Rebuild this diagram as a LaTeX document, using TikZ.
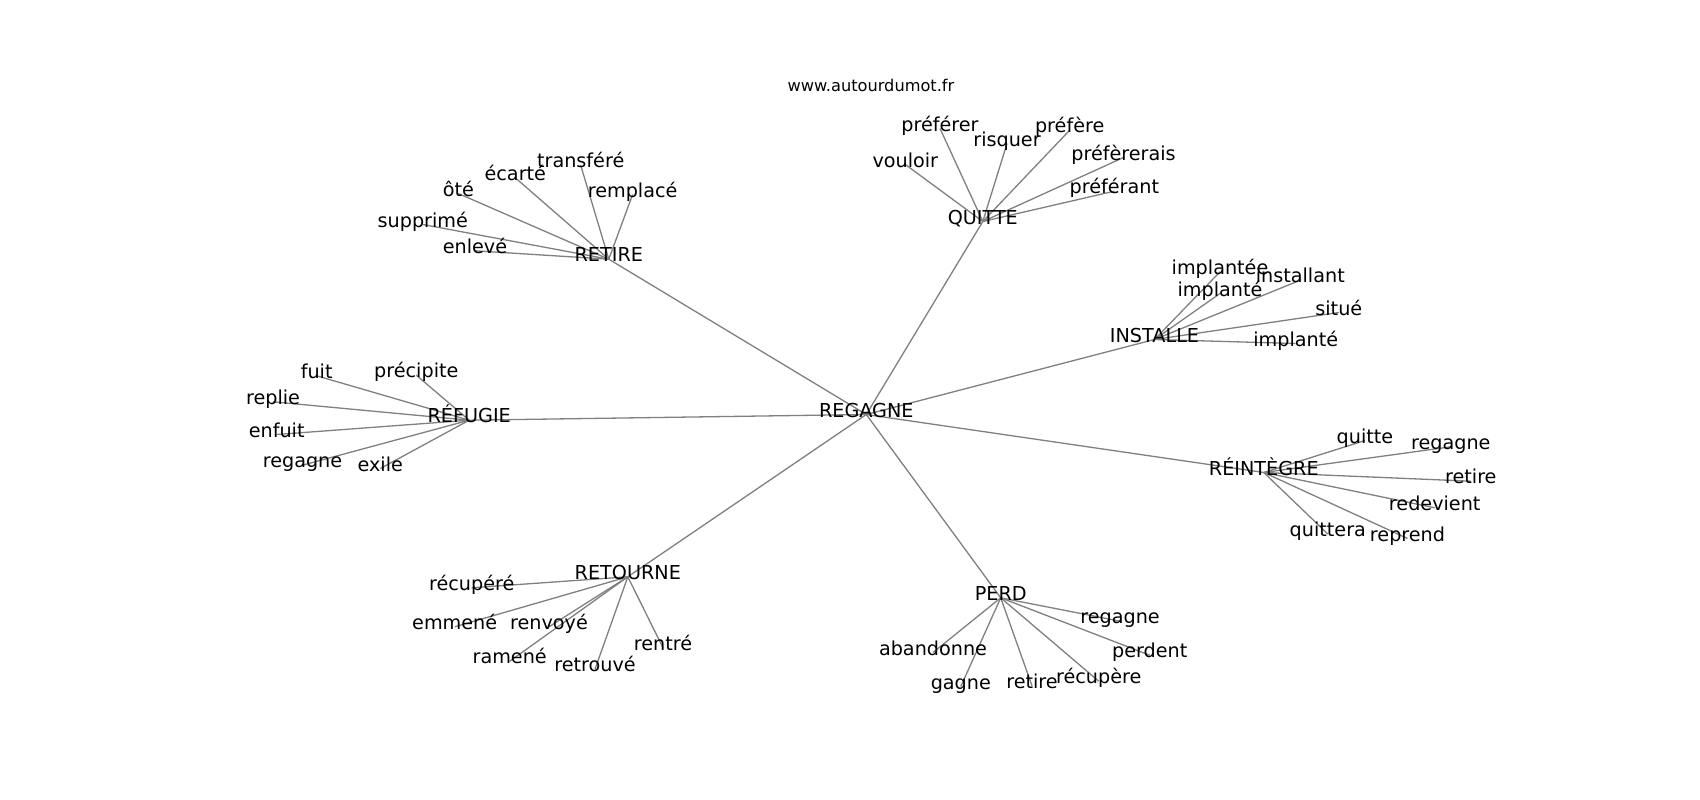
\documentclass[tikz,border=0pt]{standalone}
\usepackage{fontspec}
\setmainfont{DejaVu Sans}
\pgfdeclarelayer{bg}
\pgfdeclarelayer{edges}
\pgfsetlayers{bg,edges,main}
\tikzset{
  w/.style={inner sep=0pt, text height=0.76em, text depth=0.24em, font=\fontsize{19.2}{23}\selectfont, text=black},
  e/.style={draw=black!50, line width=1.3pt},
  ttl/.style={inner sep=0pt, anchor=base, font=\fontsize{16.2}{20}\selectfont}
}
\begin{document}
\begin{tikzpicture}[x=1pt,y=-1pt]
\begin{pgfonlayer}{bg}
\fill[white] (0,0) rectangle (1700,800);
\end{pgfonlayer}
\useasboundingbox (0,0) rectangle (1700,800);
\begin{scope}[shift={(0,3.5)}]
\node[ttl] (title) at (871,88) {www.autourdumot.fr};
% hubs
\node[w] (regagne) at (866.3,411) {REGAGNE};
\node[w] (retire) at (608.8,255.7) {RETIRE};
\node[w] (quitte) at (982.8,218) {QUITTE};
\node[w] (installe) at (1154.5,336) {INSTALLE};
\node[w] (reintegre) at (1263.8,469) {RÉINTÈGRE};
\node[w] (perd) at (1000.7,594.3) {PERD};
\node[w] (retourne) at (627.8,573.3) {RETOURNE};
\node[w] (refugie) at (469.2,416.7) {RÉFUGIE};
% RETIRE leaves
\node[w] (transfere) at (580.7,161.7) {transféré};
\node[w] (ecarte) at (515.3,174.3) {écarté};
\node[w] (ote) at (458.3,190) {ôté};
\node[w] (remplace) at (632.6,191) {remplacé};
\node[w] (supprime) at (422.8,221) {supprimé};
\node[w] (enleve) at (475,247.3) {enlevé};
% QUITTE leaves
\node[w] (preferer) at (940,125) {préférer};
\node[w] (risquer) at (1007,140) {risquer};
\node[w] (prefere) at (1069.7,126.7) {préfère};
\node[w] (vouloir) at (905.3,161) {vouloir};
\node[w] (prefererais) at (1123.5,154) {préfèrerais};
\node[w] (preferant) at (1114.3,187.7) {préférant};
% INSTALLE leaves
\node[w] (implantee) at (1220,268.3) {implantée};
\node[w] (installant) at (1300.3,276.7) {installant};
\node[w] (implanteA) at (1220,290) {implanté};
\node[w] (situe) at (1338.8,309) {situé};
\node[w] (implanteB) at (1295.7,340) {implanté};
% REINTEGRE leaves
\node[w] (rquitte) at (1365,437) {quitte};
\node[w] (rregagne) at (1450.8,443.3) {regagne};
\node[w] (rretire) at (1470.8,477.7) {retire};
\node[w] (redevient) at (1434.7,504.3) {redevient};
\node[w] (quittera) at (1327.8,530.5) {quittera};
\node[w] (reprend) at (1407.5,535) {reprend};
% REFUGIE leaves
\node[w] (fuit) at (316.7,372.3) {fuit};
\node[w] (precipite) at (416.3,371.7) {précipite};
\node[w] (replie) at (273,398.3) {replie};
\node[w] (enfuit) at (276.7,431) {enfuit};
\node[w] (fregagne) at (302.5,461.7) {regagne};
\node[w] (exile) at (380.3,465) {exile};
% RETOURNE leaves
\node[w] (recupere) at (471.7,584.3) {récupéré};
\node[w] (emmene) at (454.7,623.3) {emmené};
\node[w] (renvoye) at (549,623.3) {renvoyé};
\node[w] (rentre) at (663,644.3) {rentré};
\node[w] (ramene) at (509.7,657.7) {ramené};
\node[w] (retrouve) at (595,665.7) {retrouvé};
% PERD leaves
\node[w] (abandonne) at (933,649) {abandonne};
\node[w] (gagne) at (960.8,683) {gagne};
\node[w] (pretire) at (1032,682.3) {retire};
\node[w] (precupere) at (1098.7,677.7) {récupère};
\node[w] (pregagne) at (1120,617.7) {regagne};
\node[w] (perdent) at (1149.7,651.7) {perdent};
\end{scope}
\begin{pgfonlayer}{edges}
\foreach \h in {retire,quitte,installe,reintegre,perd,retourne,refugie}
  \draw[e] (regagne.center) -- (\h.center);
\foreach \l in {transfere,ecarte,ote,remplace,supprime,enleve}
  \draw[e] (retire.center) -- (\l.center);
\foreach \l in {preferer,risquer,prefere,vouloir,prefererais,preferant}
  \draw[e] (quitte.center) -- (\l.center);
\foreach \l in {implantee,installant,implanteA,situe,implanteB}
  \draw[e] (installe.center) -- (\l.center);
\foreach \l in {rquitte,rregagne,rretire,redevient,quittera,reprend}
  \draw[e] (reintegre.center) -- (\l.center);
\foreach \l in {fuit,precipite,replie,enfuit,fregagne,exile}
  \draw[e] (refugie.center) -- (\l.center);
\foreach \l in {recupere,emmene,renvoye,rentre,ramene,retrouve}
  \draw[e] (retourne.center) -- (\l.center);
\foreach \l in {abandonne,gagne,pretire,precupere,pregagne,perdent}
  \draw[e] (perd.center) -- (\l.center);
\end{pgfonlayer}
\end{tikzpicture}
\end{document}
